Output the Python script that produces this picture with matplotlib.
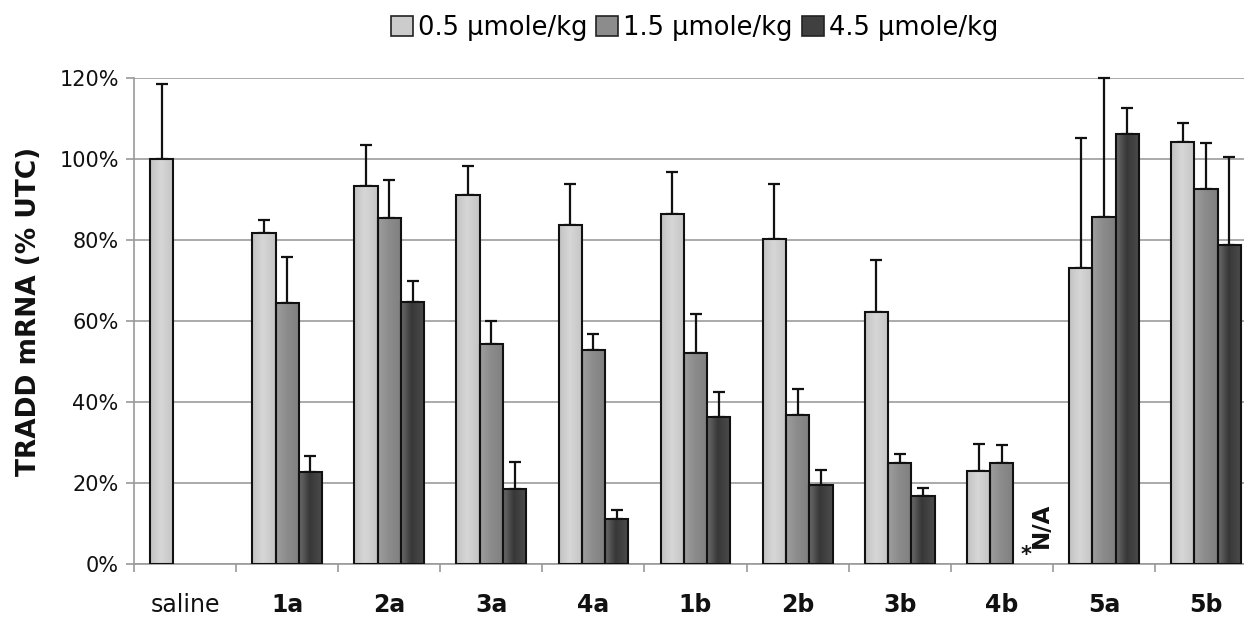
import numpy as np
import matplotlib
matplotlib.use("Agg")
import matplotlib.pyplot as plt
from matplotlib.patches import Patch
from matplotlib.ticker import FuncFormatter

# ---- data ----
categories = ['saline', '1a', '2a', '3a', '4a', '1b', '2b', '3b', '4b', '5a', '5b']
series_labels = ['0.5 µmole/kg', '1.5 µmole/kg', '4.5 µmole/kg']
dose_05 = [100.0, 81.8, 93.3, 91.1, 83.6, 86.3, 80.3, 62.1, 23.1, 73.1, 104.0]
dose_05_err = [18.4, 3.0, 10.1, 7.0, 10.1, 10.3, 13.4, 13.0, 6.6, 31.9, 4.8]
dose_15 = [np.nan, 64.3, 85.5, 54.3, 52.8, 52.0, 36.7, 25.0, 25.0, 85.7, 92.5]
dose_15_err = [np.nan, 11.5, 9.2, 5.8, 4.1, 9.7, 6.4, 2.2, 4.3, 34.3, 11.3]
dose_45 = [np.nan, 22.7, 64.7, 18.6, 11.1, 36.4, 19.6, 16.8, np.nan, 106.2, 78.7]
dose_45_err = [np.nan, 3.9, 5.1, 6.6, 2.2, 6.2, 3.7, 2.0, np.nan, 6.3, 21.6]
yticks = [0, 20, 40, 60, 80, 100, 120]

values = [dose_05, dose_15, dose_45]
errors = [dose_05_err, dose_15_err, dose_45_err]
# gradient gray levels (left, centre, right) and flat colours for legend
grad = [(0.76, 0.84, 0.77), (0.62, 0.55, 0.50), (0.42, 0.22, 0.30)]
flat = ['#cccccc', '#8c8c8c', '#404040']

plt.rcParams['font.family'] = ['DejaVu Sans']

fig = plt.figure(figsize=(12.44, 6.22), dpi=100)
ax = fig.add_axes([0.10772, 0.09277, 0.9028, 0.7825])

x = np.arange(len(categories))
w = 0.228
offsets = [-w, 0.0, w]

for s in range(3):
    vals = np.array(values[s], dtype=float)
    errs = np.array(errors[s], dtype=float)
    xs = x + offsets[s]
    bars = ax.bar(xs, vals, width=w, facecolor='none', edgecolor='#111111',
                  linewidth=1.5, zorder=4)
    t = np.linspace(0, 1, 64)
    prof = np.interp(t, [0, 0.45, 1], grad[s])
    img = prof[np.newaxis, :]
    for b, v in zip(bars, vals):
        if np.isnan(v):
            continue
        x0 = b.get_x()
        im = ax.imshow(img, cmap='gray', vmin=0, vmax=1, aspect='auto',
                       extent=[x0, x0 + b.get_width(), 0, v], zorder=3,
                       interpolation='bilinear')
        im.set_clip_path(b)
    ax.errorbar(xs, vals, yerr=[np.zeros_like(errs), errs], fmt='none',
                ecolor='#111111', elinewidth=1.6, capsize=4.3, capthick=1.6,
                zorder=2.5, clip_on=False)

ax.set_xlim(-0.5, len(categories) - 0.5)
ax.set_ylim(0, 120)
ax.set_yticks(yticks)
ax.yaxis.set_major_formatter(FuncFormatter(lambda v, p: f'{v:.0f}%'))
ax.grid(axis='y', color='#aaaaaa', linewidth=1.4, zorder=0)
ax.set_axisbelow(True)

for sp in ['top', 'right']:
    ax.spines[sp].set_visible(False)
for sp in ['left', 'bottom']:
    ax.spines[sp].set_color('#999999')
    ax.spines[sp].set_linewidth(1.2)

ax.tick_params(axis='y', length=6, width=1.2, color='#999999',
               labelsize=15, pad=5, labelcolor='#111111')
ax.set_xticks(x)
ax.set_xticklabels(categories)
ax.set_xticks(np.arange(-0.5, len(categories) - 0.4, 1.0), minor=True)
ax.tick_params(axis='x', which='major', length=0, labelsize=17, pad=21,
               labelcolor='#111111')
ax.tick_params(axis='x', which='minor', length=6, width=1.2, color='#999999')
for i, lab in enumerate(ax.get_xticklabels()):
    lab.set_fontweight('normal' if i == 0 else 'bold')

fig.text(0.0237, 0.50, 'TRADD mRNA (% UTC)', rotation=90, fontsize=19,
         fontweight='bold', ha='center', va='center', color='#111111')

# N/A marker for 4b at 4.5 µmole/kg
na_idx = categories.index('4b')
ax.text(na_idx + 0.39, 9.7, 'N/A', rotation=90, fontsize=16.5,
        fontweight='bold', ha='center', va='center', color='#111111', zorder=5)
ax.text(na_idx + 0.236, 2.2, '*', fontsize=15, fontweight='bold',
        ha='center', va='center', color='#111111', zorder=5)

handles = [Patch(facecolor=flat[i], edgecolor='#222222', linewidth=1.2)
           for i in range(3)]
fig.legend(handles, series_labels, loc='center', bbox_to_anchor=(0.5583, 0.955),
           ncol=3, frameon=False, fontsize=18.5, handlelength=0.85,
           handleheight=0.85, handletextpad=0.2, columnspacing=0.35,
           borderaxespad=0, borderpad=0)

fig.savefig('out.png', dpi=100)
